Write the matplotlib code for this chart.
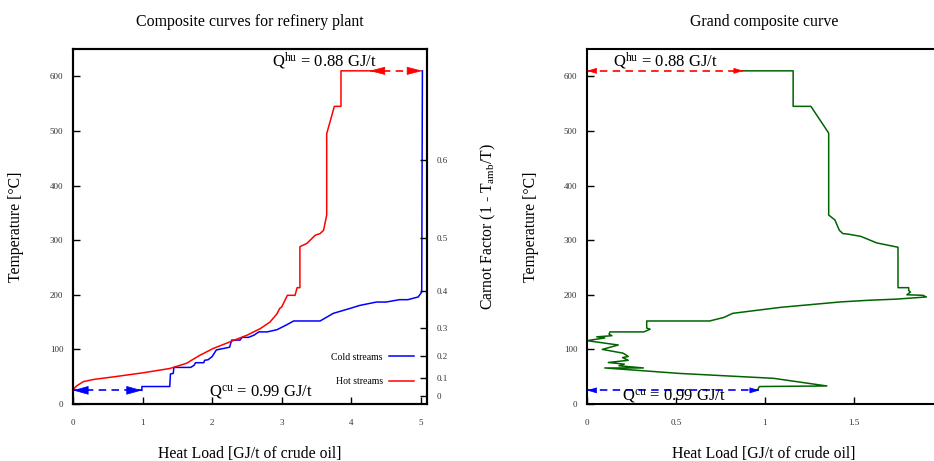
import matplotlib
matplotlib.use('Agg')
import matplotlib.pyplot as plt
import numpy as np

plt.rcParams['font.family'] = ['Liberation Serif', 'DejaVu Serif']
plt.rcParams['mathtext.fontset'] = 'custom'
plt.rcParams['mathtext.rm'] = 'Liberation Serif'
plt.rcParams['mathtext.it'] = 'Liberation Serif:italic'

# ---------------- data ----------------
hot_q = [0.0, 0.05, 0.15, 0.3, 0.6, 1.0, 1.39, 1.63, 1.82, 2.02,
         2.26, 2.5, 2.69, 2.83, 2.93, 2.97, 3.0, 3.08, 3.19, 3.22,
         3.26, 3.26, 3.36, 3.48, 3.55, 3.6, 3.645, 3.645, 3.755, 3.85,
         3.85, 4.26]
hot_t = [26, 33, 41, 45, 50, 57, 65, 74.5, 89, 102,
         114, 126, 138, 150, 165, 175, 178, 199, 199, 213,
         213, 288, 294, 309, 312, 318, 346, 495, 545, 545,
         610, 610]

cold_q = [0.99, 0.99, 1.39, 1.40, 1.44, 1.45, 1.69, 1.74, 1.76, 1.88,
          1.89, 1.94, 2.0, 2.06, 2.25, 2.28, 2.40, 2.43, 2.52, 2.6,
          2.67, 2.79, 2.93, 3.07, 3.17, 3.55, 3.74, 3.98, 4.12, 4.36,
          4.5, 4.69, 4.81, 4.96, 5.01, 5.02]
cold_t = [25, 32, 32, 55, 56, 67, 67, 71, 75.6, 75.6,
          80, 81, 87, 99, 104, 117, 117, 122, 122, 126,
          132, 132, 136, 145, 152, 152, 166, 175, 180.5, 186.7,
          186.7, 191, 191, 196, 205, 610]

gcc_q = [0.88, 1.16, 1.16, 1.26, 1.36, 1.36, 1.395, 1.42, 1.44, 1.47,
         1.54, 1.63, 1.75, 1.75, 1.81, 1.81, 1.82, 1.80, 1.89, 1.91,
         1.74, 1.59, 1.43, 1.09, 0.82, 0.77, 0.69, 0.336, 0.336, 0.355,
         0.32, 0.13, 0.124, 0.14, 0.055, 0.10, 0.0, 0.176, 0.086, 0.204,
         0.232, 0.20, 0.232, 0.12, 0.21, 0.18, 0.317, 0.10, 0.52, 1.05,
         1.35, 0.97, 0.96]
gcc_t = [610, 610, 545, 545, 496, 346, 337, 318, 312, 311,
         307, 295, 287, 213, 213, 208, 205, 200, 199, 196,
         192, 190, 187, 177, 166, 158.5, 152, 152, 139, 137,
         132, 132, 128, 125, 123, 121, 116, 108, 100, 93,
         87, 85, 80, 76, 73, 70, 66, 66, 56, 47,
         33, 32, 26]

# utility arrows (start, end, temperature)
cc_hu_arrow = [4.26, 5.02, 610]
cc_cu_arrow = [0.0, 0.99, 25]
gcc_hu_arrow = [0.0, 0.88, 610]
gcc_cu_arrow = [0.0, 0.97, 25]

qhu_label = r'Q$^{\mathrm{hu}}$ = 0.88 GJ/t'
qcu_label = r'Q$^{\mathrm{cu}}$ = 0.99 GJ/t'

t_amb = 15.0  # degC
carnot_ticks = [0, 0.1, 0.2, 0.3, 0.4, 0.5, 0.6]
carnot_labels = ['0', '0.1', '0.2', '0.3', '0.4', '0.5', '0.6']

cc_xticks = [0, 1, 2, 3, 4, 5]
cc_xlabels = ['0', '1', '2', '3', '4', '5']
gcc_xticks = [0, 0.5, 1, 1.5]
gcc_xlabels = ['0', '0.5', '1', '1.5']
yticks = [0, 100, 200, 300, 400, 500, 600]

# ---------------- figure ----------------
fig = plt.figure(figsize=(9.34, 4.61), dpi=100)
W, H = 934, 461
ax1 = fig.add_axes([73 / W, 57 / H, 354 / W, 355 / H])
ax3 = fig.add_axes([587 / W, 57 / H, 354 / W, 355 / H])

RED = '#ff0000'
BLUE = '#0000ff'
GREEN = '#006400'
TICKC = '#333333'


def style_axes(ax):
    for s in ax.spines.values():
        s.set_linewidth(1.5)
    ax.tick_params(axis='both', direction='in', length=5, width=1.0,
                   labelsize=6.5, labelcolor=TICKC)
    ax.tick_params(axis='x', pad=11, top=False)
    ax.tick_params(axis='y', pad=7, right=False)


def head(ax, x, y, direction, color, length_pt, half_w_pt):
    ax.annotate('', xy=(x, y), xytext=(-direction * length_pt, 0),
                textcoords='offset points', annotation_clip=False,
                arrowprops=dict(arrowstyle=f'-|>,head_length={length_pt},head_width={half_w_pt}',
                                mutation_scale=1, color=color, lw=0.5,
                                shrinkA=0, shrinkB=0))


def dashed_arrow(ax, spec, color, length_pt, half_w_pt):
    x0, x1, t = spec
    ax.plot([x0, x1], [t, t], color=color, lw=1.2, dashes=(4.5, 3.2),
            solid_capstyle='butt', dash_capstyle='butt')
    head(ax, x0, t, -1, color, length_pt, half_w_pt)
    head(ax, x1, t, 1, color, length_pt, half_w_pt)


# ---- composite curves ----
cold_line, = ax1.plot(cold_q, cold_t, color=BLUE, lw=1.1)
hot_line, = ax1.plot(hot_q, hot_t, color=RED, lw=1.1)
dashed_arrow(ax1, cc_hu_arrow, RED, 10, 2.6)
dashed_arrow(ax1, cc_cu_arrow, BLUE, 10, 2.8)
ax1.set_xlim(0, 5.086)
ax1.set_ylim(0, 650)
ax1.set_xticks(cc_xticks)
ax1.set_xticklabels(cc_xlabels)
ax1.set_yticks(yticks)
style_axes(ax1)
ax1.set_xlabel('Heat Load [GJ/t of crude oil]', fontsize=11.3)
ax1.xaxis.set_label_coords(0.5, -0.118)
ax1.set_ylabel('Temperature [°C]', fontsize=11.3)
ax1.yaxis.set_label_coords(-0.138, 0.5)
ax1.text(0.5, 1.075, 'Composite curves for refinery plant', transform=ax1.transAxes,
         ha='center', va='center', fontsize=11.4)
ax1.text(3.61, 617, qhu_label, ha='center', va='baseline', fontsize=12)
ax1.text(2.70, 13, qcu_label, ha='center', va='baseline', fontsize=12)

leg = ax1.legend([cold_line, hot_line], ['Cold streams', 'Hot streams'],
                 loc='center right', bbox_to_anchor=(0.963, 0.0975),
                 markerfirst=False, frameon=False, fontsize=7,
                 handlelength=2.6, labelspacing=1.6, borderpad=0,
                 borderaxespad=0, handletextpad=0.6)

ax2 = ax1.twinx()
ax2.set_ylim(0, 650)
carnot_temps = [(t_amb + 273.15) / (1 - c) - 273.15 for c in carnot_ticks]
ax2.set_yticks(carnot_temps)
ax2.set_yticklabels(carnot_labels)
for s in ax2.spines.values():
    s.set_linewidth(1.5)
ax2.tick_params(axis='y', direction='in', length=5, width=1.0,
                labelsize=6.5, labelcolor=TICKC, pad=7)
ax2.set_ylabel(r'Carnot Factor (1 - T$_{\mathrm{amb}}$/T)', fontsize=11.3)
ax2.yaxis.set_label_coords(1.147, 0.5)

# ---- grand composite curve ----
ax3.plot(gcc_q, gcc_t, color=GREEN, lw=1.1)
dashed_arrow(ax3, gcc_hu_arrow, RED, 6, 1.8)
dashed_arrow(ax3, gcc_cu_arrow, BLUE, 6, 1.8)
ax3.set_xlim(0, 1.992)
ax3.set_ylim(0, 650)
ax3.set_xticks(gcc_xticks)
ax3.set_xticklabels(gcc_xlabels)
ax3.set_yticks(yticks)
style_axes(ax3)
ax3.set_xlabel('Heat Load [GJ/t of crude oil]', fontsize=11.3)
ax3.xaxis.set_label_coords(0.5, -0.118)
ax3.set_ylabel('Temperature [°C]', fontsize=11.3)
ax3.yaxis.set_label_coords(-0.136, 0.5)
ax3.text(0.5, 1.075, 'Grand composite curve', transform=ax3.transAxes,
         ha='center', va='center', fontsize=11.4)
ax3.text(0.44, 617, qhu_label, ha='center', va='baseline', fontsize=12)
ax3.text(0.49, 6, qcu_label, ha='center', va='baseline', fontsize=12)

fig.savefig('out.png', dpi=100)
